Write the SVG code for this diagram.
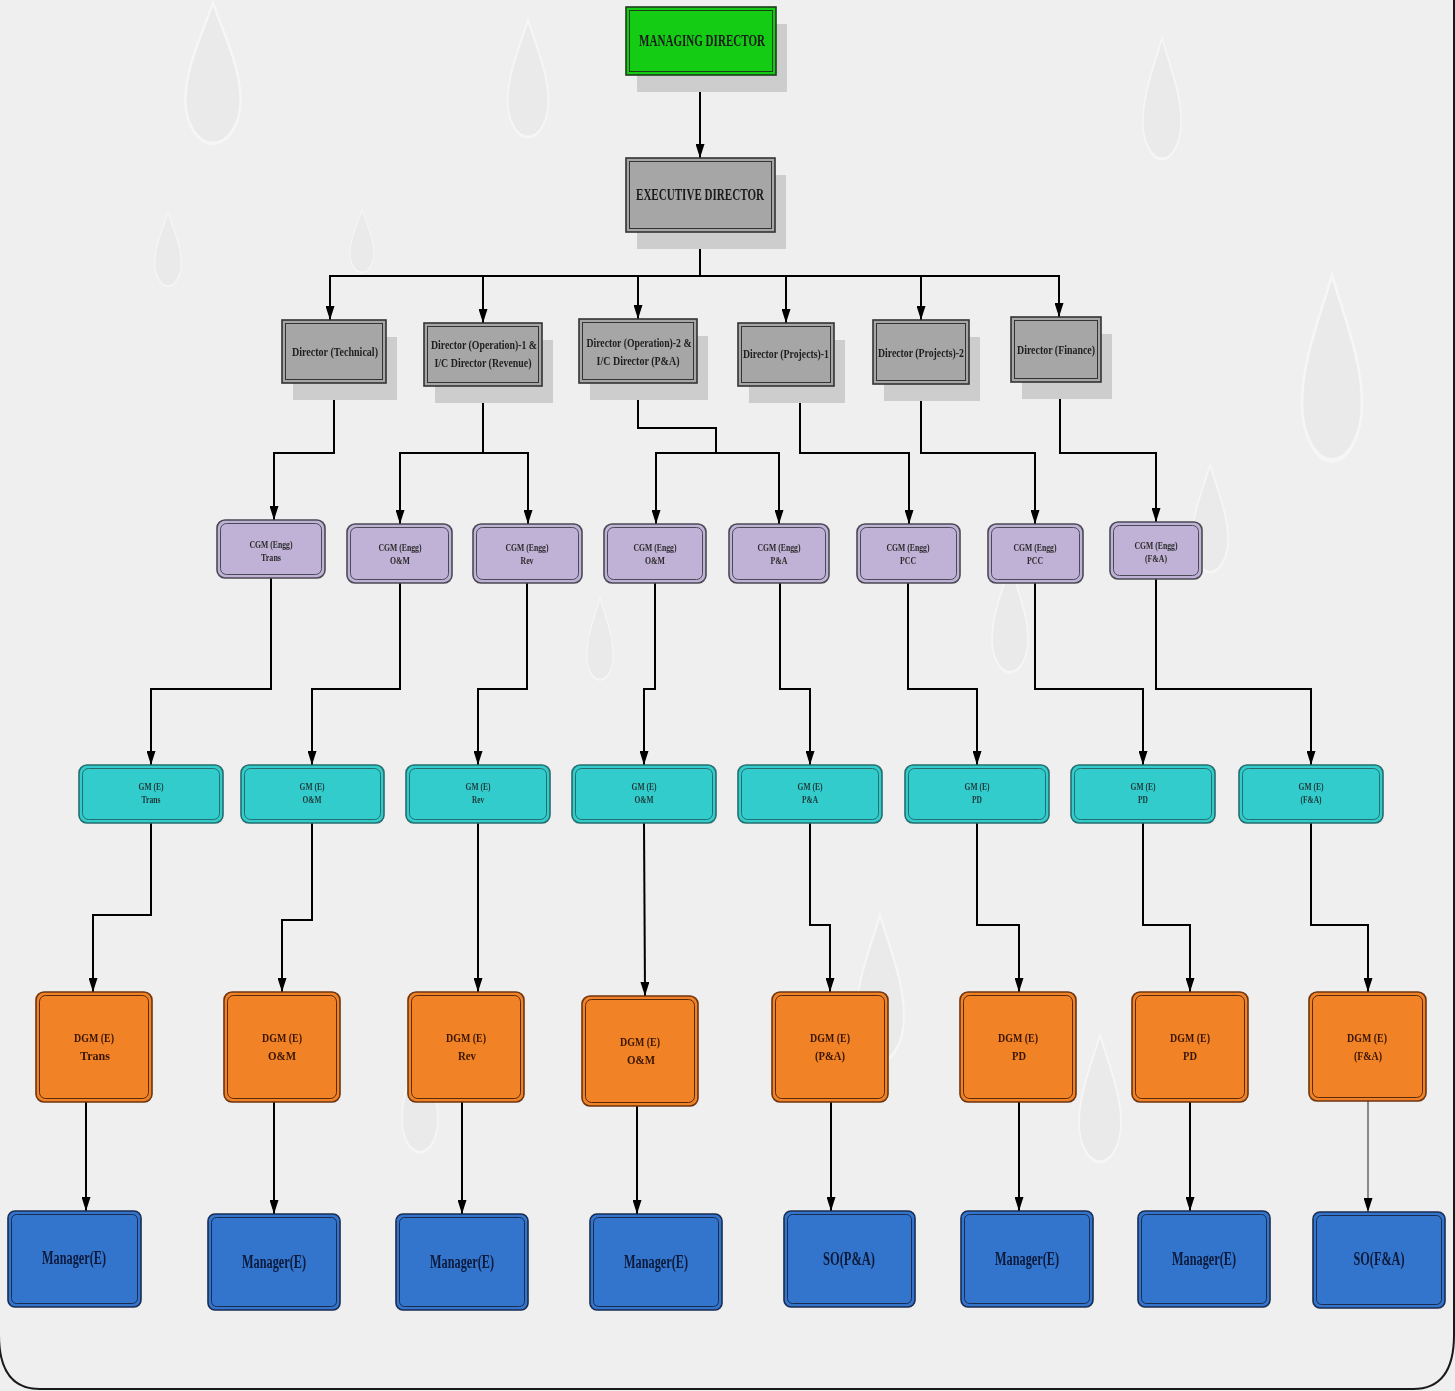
<svg xmlns="http://www.w3.org/2000/svg" width="1455" height="1391" viewBox="0 0 1455 1391">
<defs>
<style>
.bg{fill:#efefef}
.frame{fill:none;stroke:#1a1a1a;stroke-width:2}
.drop{fill:#e6e6e6;stroke:#fbfbfb;stroke-width:0.05}
.sh{fill:#cdcdcd}
.md{fill:#14cc14;stroke:#1d3d1d;stroke-width:1.6}
.mdi{fill:none;stroke:#1d3d1d;stroke-width:1}
.gr{fill:#a6a6a6;stroke:#333;stroke-width:1.6}
.gri{fill:none;stroke:#333;stroke-width:1}
.cg{fill:#c0b2d6;stroke:#4a4a55;stroke-width:1.6}
.cgi{fill:none;stroke:#4a4a55;stroke-width:1}
.gm{fill:#33cccc;stroke:#256e6e;stroke-width:1.6}
.gmi{fill:none;stroke:#256e6e;stroke-width:1}
.dg{fill:#f18225;stroke:#6e3510;stroke-width:1.6}
.dgi{fill:none;stroke:#5a2a0c;stroke-width:1}
.mg{fill:#3374cc;stroke:#1a2c50;stroke-width:1.6}
.mgi{fill:none;stroke:#1a2c50;stroke-width:1}
text{font-family:"Liberation Serif","Times New Roman",serif;font-weight:bold;text-anchor:middle}
.t16{font-size:16px;fill:#1a1a1a}
.t13{font-size:13px;fill:#1f1f1f}
.t11{font-size:11px;fill:#2a2a2a}
.t10{font-size:10px;fill:#1f3535}
.td{font-size:13px;fill:#3a1606}
.tm{font-size:18px;fill:#0d1a3a}
.c{fill:none;stroke:#000;stroke-width:2;marker-end:url(#ah)}
.cn{fill:none;stroke:#000;stroke-width:2}
.cthin{fill:none;stroke:#555;stroke-width:1.3;marker-end:url(#ah)}
</style>
<marker id="ah" markerUnits="userSpaceOnUse" markerWidth="14" markerHeight="9" viewBox="0 0 14 9" refX="14" refY="4.5" orient="auto">
<path d="M0,0 L14,4.5 L0,9 Z" fill="#000"/>
</marker>
<path id="dp" d="M0,-1 C0.25,-0.55 0.6,-0.1 0.6,0.35 A0.6,0.6 0 0 1 -0.6,0.35 C-0.6,-0.1 -0.25,-0.55 0,-1 Z"/>
</defs>
<rect class="bg" x="0" y="0" width="1455" height="1391"/>
<g id="decor" opacity="0.55">
<use href="#dp" class="drop" transform="translate(213,75) scale(46,72)"/>
<use href="#dp" class="drop" transform="translate(528,80) scale(34,60)"/>
<use href="#dp" class="drop" transform="translate(1162,100) scale(32,62)"/>
<use href="#dp" class="drop" transform="translate(1332,370) scale(50,95)"/>
<use href="#dp" class="drop" transform="translate(168,250) scale(22,38)"/>
<use href="#dp" class="drop" transform="translate(362,242) scale(20,32)"/>
<use href="#dp" class="drop" transform="translate(1210,520) scale(30,55)"/>
<use href="#dp" class="drop" transform="translate(880,990) scale(40,75)"/>
<use href="#dp" class="drop" transform="translate(1100,1100) scale(35,65)"/>
<use href="#dp" class="drop" transform="translate(420,1100) scale(30,55)"/>
<use href="#dp" class="drop" transform="translate(1010,620) scale(30,55)"/>
<use href="#dp" class="drop" transform="translate(600,640) scale(22,42)"/>
</g>
<path class="frame" d="M-1,0 V1335 Q-1,1389 40,1389 H1413 Q1454,1389 1454,1335 V0"/>

<g id="connectors">
<path class="c" d="M700,75 V158"/>
<path class="cn" d="M700,232 V276 M329,276 H1060"/>
<path class="c" d="M330,276 V320"/>
<path class="c" d="M483,276 V323"/>
<path class="c" d="M638,276 V319"/>
<path class="c" d="M786,276 V323"/>
<path class="c" d="M921,276 V320"/>
<path class="c" d="M1059,276 V317"/>

<path class="c" d="M334,384 V453 H274 V520"/>
<path class="c" d="M483,386 V453 H400 V524"/>
<path class="c" d="M483,453 H528 V524"/>
<path class="c" d="M638,383 V428 H716 V453 H656 V524"/>
<path class="c" d="M716,453 H779 V524"/>
<path class="c" d="M800,386 V453 H909 V524"/>
<path class="c" d="M921,384 V453 H1035 V524"/>
<path class="c" d="M1060,382 V453 H1156 V522"/>

<path class="c" d="M271,578 V689 H151 V765"/>
<path class="c" d="M400,583 V689 H312 V765"/>
<path class="c" d="M527,583 V689 H478 V765"/>
<path class="c" d="M655,583 V689 H644 V765"/>
<path class="c" d="M780,583 V689 H810 V765"/>
<path class="c" d="M908,583 V689 H977 V765"/>
<path class="c" d="M1035,583 V689 H1143 V765"/>
<path class="c" d="M1156,579 V689 H1311 V765"/>

<path class="c" d="M151,823 V915 H93 V992"/>
<path class="c" d="M312,823 V920 H282 V992"/>
<path class="c" d="M478,823 V992"/>
<path class="c" d="M644,823 L645,996"/>
<path class="c" d="M810,823 V925 H830 V992"/>
<path class="c" d="M977,823 V925 H1019 V992"/>
<path class="c" d="M1143,823 V925 H1190 V992"/>
<path class="c" d="M1311,823 V925 H1368 V992"/>

<path class="c" d="M86,1102 V1211"/>
<path class="c" d="M274,1102 V1214"/>
<path class="c" d="M462,1102 V1214"/>
<path class="c" d="M637,1106 V1214"/>
<path class="c" d="M831,1102 V1211"/>
<path class="c" d="M1019,1102 V1211"/>
<path class="c" d="M1190,1102 V1211"/>
<path class="cthin" d="M1368,1101 V1212"/>
</g>

<g id="md">
<rect class="sh" x="637" y="24" width="150" height="68"/>
<rect class="md" x="626" y="7" width="150" height="68"/>
<rect class="mdi" x="629.5" y="10.5" width="143" height="61"/>
<text class="t16" x="702" y="46" textLength="126" lengthAdjust="spacingAndGlyphs">MANAGING DIRECTOR</text>
</g>
<g id="ed">
<rect class="sh" x="637" y="175" width="149" height="74"/>
<rect class="gr" x="626" y="158" width="149" height="74"/>
<rect class="gri" x="629.5" y="161.5" width="142" height="67"/>
<text class="t16" x="700" y="200" textLength="128" lengthAdjust="spacingAndGlyphs">EXECUTIVE DIRECTOR</text>
</g>

<g id="dir-technical">
<rect class="sh" x="293" y="337" width="104" height="63"/>
<rect class="gr" x="282" y="320" width="104" height="63"/>
<rect class="gri" x="285.5" y="323.5" width="97" height="56"/>
<text class="t13" x="335" y="356" textLength="86" lengthAdjust="spacingAndGlyphs">Director (Technical)</text>
</g>
<g id="dir-op1">
<rect class="sh" x="435" y="340" width="118" height="63"/>
<rect class="gr" x="424" y="323" width="118" height="63"/>
<rect class="gri" x="427.5" y="326.5" width="111" height="56"/>
<text class="t13" x="484" y="349" textLength="106" lengthAdjust="spacingAndGlyphs">Director (Operation)-1 &amp;</text>
<text class="t13" x="483" y="367" textLength="97" lengthAdjust="spacingAndGlyphs">I/C Director (Revenue)</text>
</g>
<g id="dir-op2">
<rect class="sh" x="590" y="336" width="118" height="64"/>
<rect class="gr" x="579" y="319" width="118" height="64"/>
<rect class="gri" x="582.5" y="322.5" width="111" height="57"/>
<text class="t13" x="639" y="347" textLength="105" lengthAdjust="spacingAndGlyphs">Director (Operation)-2 &amp;</text>
<text class="t13" x="638" y="365" textLength="83" lengthAdjust="spacingAndGlyphs">I/C Director (P&amp;A)</text>
</g>
<g id="dir-proj1">
<rect class="sh" x="749" y="340" width="96" height="63"/>
<rect class="gr" x="738" y="323" width="96" height="63"/>
<rect class="gri" x="741.5" y="326.5" width="89" height="56"/>
<text class="t13" x="786" y="358" textLength="86" lengthAdjust="spacingAndGlyphs">Director (Projects)-1</text>
</g>
<g id="dir-proj2">
<rect class="sh" x="884" y="337" width="96" height="64"/>
<rect class="gr" x="873" y="320" width="96" height="64"/>
<rect class="gri" x="876.5" y="323.5" width="89" height="57"/>
<text class="t13" x="921" y="357" textLength="86" lengthAdjust="spacingAndGlyphs">Director (Projects)-2</text>
</g>
<g id="dir-finance">
<rect class="sh" x="1022" y="334" width="90" height="65"/>
<rect class="gr" x="1011" y="317" width="90" height="65"/>
<rect class="gri" x="1014.5" y="320.5" width="83" height="58"/>
<text class="t13" x="1056" y="354" textLength="78" lengthAdjust="spacingAndGlyphs">Director (Finance)</text>
</g>

<g id="cgm-trans">
<rect class="cg" x="217" y="520" width="108" height="58" rx="8"/>
<rect class="cgi" x="220.5" y="523.5" width="101" height="51" rx="6"/>
<text class="t11" x="271" y="548" textLength="43" lengthAdjust="spacingAndGlyphs">CGM (Engg)</text>
<text class="t11" x="271" y="561" textLength="20" lengthAdjust="spacingAndGlyphs">Trans</text>
</g>
<g id="cgm-om1">
<rect class="cg" x="347" y="524" width="105" height="59" rx="8"/>
<rect class="cgi" x="350.5" y="527.5" width="98" height="52" rx="6"/>
<text class="t11" x="400" y="551" textLength="43" lengthAdjust="spacingAndGlyphs">CGM (Engg)</text>
<text class="t11" x="400" y="564" textLength="20" lengthAdjust="spacingAndGlyphs">O&amp;M</text>
</g>
<g id="cgm-rev">
<rect class="cg" x="473" y="524" width="109" height="59" rx="8"/>
<rect class="cgi" x="476.5" y="527.5" width="102" height="52" rx="6"/>
<text class="t11" x="527" y="551" textLength="43" lengthAdjust="spacingAndGlyphs">CGM (Engg)</text>
<text class="t11" x="527" y="564" textLength="13" lengthAdjust="spacingAndGlyphs">Rev</text>
</g>
<g id="cgm-om2">
<rect class="cg" x="604" y="524" width="102" height="59" rx="8"/>
<rect class="cgi" x="607.5" y="527.5" width="95" height="52" rx="6"/>
<text class="t11" x="655" y="551" textLength="43" lengthAdjust="spacingAndGlyphs">CGM (Engg)</text>
<text class="t11" x="655" y="564" textLength="20" lengthAdjust="spacingAndGlyphs">O&amp;M</text>
</g>
<g id="cgm-pa">
<rect class="cg" x="729" y="524" width="100" height="59" rx="8"/>
<rect class="cgi" x="732.5" y="527.5" width="93" height="52" rx="6"/>
<text class="t11" x="779" y="551" textLength="43" lengthAdjust="spacingAndGlyphs">CGM (Engg)</text>
<text class="t11" x="779" y="564" textLength="17" lengthAdjust="spacingAndGlyphs">P&amp;A</text>
</g>
<g id="cgm-pcc1">
<rect class="cg" x="857" y="524" width="103" height="59" rx="8"/>
<rect class="cgi" x="860.5" y="527.5" width="96" height="52" rx="6"/>
<text class="t11" x="908" y="551" textLength="43" lengthAdjust="spacingAndGlyphs">CGM (Engg)</text>
<text class="t11" x="908" y="564" textLength="16" lengthAdjust="spacingAndGlyphs">PCC</text>
</g>
<g id="cgm-pcc2">
<rect class="cg" x="988" y="524" width="95" height="59" rx="8"/>
<rect class="cgi" x="991.5" y="527.5" width="88" height="52" rx="6"/>
<text class="t11" x="1035" y="551" textLength="43" lengthAdjust="spacingAndGlyphs">CGM (Engg)</text>
<text class="t11" x="1035" y="564" textLength="16" lengthAdjust="spacingAndGlyphs">PCC</text>
</g>
<g id="cgm-fa">
<rect class="cg" x="1110" y="522" width="92" height="57" rx="8"/>
<rect class="cgi" x="1113.5" y="525.5" width="85" height="50" rx="6"/>
<text class="t11" x="1156" y="549" textLength="43" lengthAdjust="spacingAndGlyphs">CGM (Engg)</text>
<text class="t11" x="1156" y="562" textLength="22" lengthAdjust="spacingAndGlyphs">(F&amp;A)</text>
</g>

<g id="gm-trans">
<rect class="gm" x="79" y="765" width="144" height="58" rx="8"/>
<rect class="gmi" x="82.5" y="768.5" width="137" height="51" rx="6"/>
<text class="t10" x="151" y="790" textLength="25" lengthAdjust="spacingAndGlyphs">GM (E)</text>
<text class="t10" x="151" y="803" textLength="19" lengthAdjust="spacingAndGlyphs">Trans</text>
</g>
<g id="gm-om1">
<rect class="gm" x="241" y="765" width="143" height="58" rx="8"/>
<rect class="gmi" x="244.5" y="768.5" width="136" height="51" rx="6"/>
<text class="t10" x="312" y="790" textLength="25" lengthAdjust="spacingAndGlyphs">GM (E)</text>
<text class="t10" x="312" y="803" textLength="19" lengthAdjust="spacingAndGlyphs">O&amp;M</text>
</g>
<g id="gm-rev">
<rect class="gm" x="406" y="765" width="144" height="58" rx="8"/>
<rect class="gmi" x="409.5" y="768.5" width="137" height="51" rx="6"/>
<text class="t10" x="478" y="790" textLength="25" lengthAdjust="spacingAndGlyphs">GM (E)</text>
<text class="t10" x="478" y="803" textLength="12" lengthAdjust="spacingAndGlyphs">Rev</text>
</g>
<g id="gm-om2">
<rect class="gm" x="572" y="765" width="144" height="58" rx="8"/>
<rect class="gmi" x="575.5" y="768.5" width="137" height="51" rx="6"/>
<text class="t10" x="644" y="790" textLength="25" lengthAdjust="spacingAndGlyphs">GM (E)</text>
<text class="t10" x="644" y="803" textLength="19" lengthAdjust="spacingAndGlyphs">O&amp;M</text>
</g>
<g id="gm-pa">
<rect class="gm" x="738" y="765" width="144" height="58" rx="8"/>
<rect class="gmi" x="741.5" y="768.5" width="137" height="51" rx="6"/>
<text class="t10" x="810" y="790" textLength="25" lengthAdjust="spacingAndGlyphs">GM (E)</text>
<text class="t10" x="810" y="803" textLength="16" lengthAdjust="spacingAndGlyphs">P&amp;A</text>
</g>
<g id="gm-pd1">
<rect class="gm" x="905" y="765" width="144" height="58" rx="8"/>
<rect class="gmi" x="908.5" y="768.5" width="137" height="51" rx="6"/>
<text class="t10" x="977" y="790" textLength="25" lengthAdjust="spacingAndGlyphs">GM (E)</text>
<text class="t10" x="977" y="803" textLength="10" lengthAdjust="spacingAndGlyphs">PD</text>
</g>
<g id="gm-pd2">
<rect class="gm" x="1071" y="765" width="144" height="58" rx="8"/>
<rect class="gmi" x="1074.5" y="768.5" width="137" height="51" rx="6"/>
<text class="t10" x="1143" y="790" textLength="25" lengthAdjust="spacingAndGlyphs">GM (E)</text>
<text class="t10" x="1143" y="803" textLength="10" lengthAdjust="spacingAndGlyphs">PD</text>
</g>
<g id="gm-fa">
<rect class="gm" x="1239" y="765" width="144" height="58" rx="8"/>
<rect class="gmi" x="1242.5" y="768.5" width="137" height="51" rx="6"/>
<text class="t10" x="1311" y="790" textLength="25" lengthAdjust="spacingAndGlyphs">GM (E)</text>
<text class="t10" x="1311" y="803" textLength="21" lengthAdjust="spacingAndGlyphs">(F&amp;A)</text>
</g>

<g id="dgm-trans">
<rect class="dg" x="36" y="992" width="116" height="110" rx="8"/>
<rect class="dgi" x="39.5" y="995.5" width="109" height="103" rx="6"/>
<text class="td" x="94" y="1042" textLength="40" lengthAdjust="spacingAndGlyphs">DGM (E)</text>
<text class="td" x="95" y="1060" textLength="30" lengthAdjust="spacingAndGlyphs">Trans</text>
</g>
<g id="dgm-om1">
<rect class="dg" x="224" y="992" width="116" height="110" rx="8"/>
<rect class="dgi" x="227.5" y="995.5" width="109" height="103" rx="6"/>
<text class="td" x="282" y="1042" textLength="40" lengthAdjust="spacingAndGlyphs">DGM (E)</text>
<text class="td" x="282" y="1060" textLength="28" lengthAdjust="spacingAndGlyphs">O&amp;M</text>
</g>
<g id="dgm-rev">
<rect class="dg" x="408" y="992" width="116" height="110" rx="8"/>
<rect class="dgi" x="411.5" y="995.5" width="109" height="103" rx="6"/>
<text class="td" x="466" y="1042" textLength="40" lengthAdjust="spacingAndGlyphs">DGM (E)</text>
<text class="td" x="467" y="1060" textLength="18" lengthAdjust="spacingAndGlyphs">Rev</text>
</g>
<g id="dgm-om2">
<rect class="dg" x="582" y="996" width="116" height="110" rx="8"/>
<rect class="dgi" x="585.5" y="999.5" width="109" height="103" rx="6"/>
<text class="td" x="640" y="1046" textLength="40" lengthAdjust="spacingAndGlyphs">DGM (E)</text>
<text class="td" x="641" y="1064" textLength="28" lengthAdjust="spacingAndGlyphs">O&amp;M</text>
</g>
<g id="dgm-pa">
<rect class="dg" x="772" y="992" width="116" height="110" rx="8"/>
<rect class="dgi" x="775.5" y="995.5" width="109" height="103" rx="6"/>
<text class="td" x="830" y="1042" textLength="40" lengthAdjust="spacingAndGlyphs">DGM (E)</text>
<text class="td" x="830" y="1060" textLength="30" lengthAdjust="spacingAndGlyphs">(P&amp;A)</text>
</g>
<g id="dgm-pd1">
<rect class="dg" x="960" y="992" width="116" height="110" rx="8"/>
<rect class="dgi" x="963.5" y="995.5" width="109" height="103" rx="6"/>
<text class="td" x="1018" y="1042" textLength="40" lengthAdjust="spacingAndGlyphs">DGM (E)</text>
<text class="td" x="1019" y="1060" textLength="14" lengthAdjust="spacingAndGlyphs">PD</text>
</g>
<g id="dgm-pd2">
<rect class="dg" x="1132" y="992" width="116" height="110" rx="8"/>
<rect class="dgi" x="1135.5" y="995.5" width="109" height="103" rx="6"/>
<text class="td" x="1190" y="1042" textLength="40" lengthAdjust="spacingAndGlyphs">DGM (E)</text>
<text class="td" x="1190" y="1060" textLength="14" lengthAdjust="spacingAndGlyphs">PD</text>
</g>
<g id="dgm-fa">
<rect class="dg" x="1309" y="992" width="117" height="109" rx="8"/>
<rect class="dgi" x="1312.5" y="995.5" width="110" height="102" rx="6"/>
<text class="td" x="1367" y="1042" textLength="40" lengthAdjust="spacingAndGlyphs">DGM (E)</text>
<text class="td" x="1368" y="1060" textLength="28" lengthAdjust="spacingAndGlyphs">(F&amp;A)</text>
</g>

<g id="mgr-1">
<rect class="mg" x="8" y="1211" width="133" height="96" rx="7"/>
<rect class="mgi" x="11.5" y="1214.5" width="126" height="89" rx="5"/>
<text class="tm" x="74" y="1264" textLength="64" lengthAdjust="spacingAndGlyphs">Manager(E)</text>
</g>
<g id="mgr-2">
<rect class="mg" x="208" y="1214" width="132" height="96" rx="7"/>
<rect class="mgi" x="211.5" y="1217.5" width="125" height="89" rx="5"/>
<text class="tm" x="274" y="1268" textLength="64" lengthAdjust="spacingAndGlyphs">Manager(E)</text>
</g>
<g id="mgr-3">
<rect class="mg" x="396" y="1214" width="132" height="96" rx="7"/>
<rect class="mgi" x="399.5" y="1217.5" width="125" height="89" rx="5"/>
<text class="tm" x="462" y="1268" textLength="64" lengthAdjust="spacingAndGlyphs">Manager(E)</text>
</g>
<g id="mgr-4">
<rect class="mg" x="590" y="1214" width="132" height="96" rx="7"/>
<rect class="mgi" x="593.5" y="1217.5" width="125" height="89" rx="5"/>
<text class="tm" x="656" y="1268" textLength="64" lengthAdjust="spacingAndGlyphs">Manager(E)</text>
</g>
<g id="so-pa">
<rect class="mg" x="784" y="1211" width="131" height="96" rx="7"/>
<rect class="mgi" x="787.5" y="1214.5" width="124" height="89" rx="5"/>
<text class="tm" x="849" y="1265" textLength="52" lengthAdjust="spacingAndGlyphs">SO(P&amp;A)</text>
</g>
<g id="mgr-6">
<rect class="mg" x="961" y="1211" width="132" height="96" rx="7"/>
<rect class="mgi" x="964.5" y="1214.5" width="125" height="89" rx="5"/>
<text class="tm" x="1027" y="1265" textLength="64" lengthAdjust="spacingAndGlyphs">Manager(E)</text>
</g>
<g id="mgr-7">
<rect class="mg" x="1138" y="1211" width="132" height="96" rx="7"/>
<rect class="mgi" x="1141.5" y="1214.5" width="125" height="89" rx="5"/>
<text class="tm" x="1204" y="1265" textLength="64" lengthAdjust="spacingAndGlyphs">Manager(E)</text>
</g>
<g id="so-fa">
<rect class="mg" x="1313" y="1212" width="132" height="96" rx="7"/>
<rect class="mgi" x="1316.5" y="1215.5" width="125" height="89" rx="5"/>
<text class="tm" x="1379" y="1265" textLength="51" lengthAdjust="spacingAndGlyphs">SO(F&amp;A)</text>
</g>
</svg>
